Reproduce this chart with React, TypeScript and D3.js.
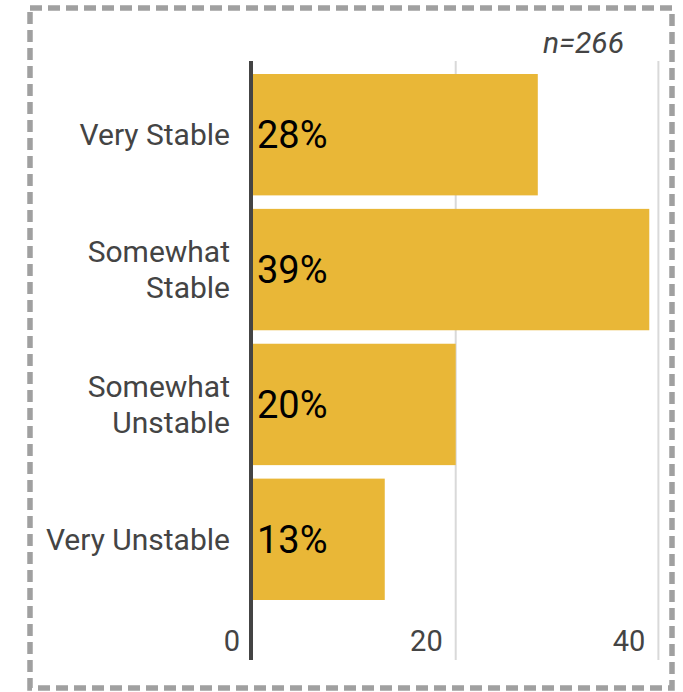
import React from "react";
import * as d3 from "d3";

const categories = ["Very Stable", "Somewhat Stable", "Somewhat Unstable", "Very Unstable"];
const categoryLines = [["Very Stable"], ["Somewhat", "Stable"], ["Somewhat", "Unstable"], ["Very Unstable"]];
const values = [28.1, 39.1, 20.0, 13.0];
const ticks = [0, 20, 40];
const sampleNote = "n=266";

const W = 683;
const H = 692;
const FONT = "Roboto, 'Noto Sans', sans-serif";

export default function App() {
  const x = d3.scaleLinear().domain([0, 40]).range([253, 658.4]);
  const y = d3.scaleBand<string>().domain(categories).range([74, 600]).paddingInner(0.1).paddingOuter(0);
  const plotTop = 61;
  const plotBottom = 660;
  const bw = y.bandwidth();

  return (
    <svg width={W} height={H} style={{ position: "absolute", left: 0, top: 0, background: "#fff" }} fontFamily={FONT}>
      <rect x={30} y={8} width={642} height={680} fill="none" stroke="#a0a0a0" strokeWidth={5.5} strokeDasharray="12 6" />
      {ticks.filter((t) => t !== 0).map((t) => (
        <line key={t} x1={x(t)} x2={x(t)} y1={plotTop} y2={plotBottom} stroke="#d9d9d9" strokeWidth={2} />
      ))}
      {categories.map((c, i) => (
        <rect key={c} x={x(0)} y={y(c)} width={x(values[i]) - x(0)} height={bw} fill="#E9B737" />
      ))}
      <line x1={x(0) - 2} x2={x(0) - 2} y1={plotTop} y2={plotBottom} stroke="#444" strokeWidth={4} />
      {categories.map((c, i) => (
        <text key={c} x={x(0) + 4} y={(y(c) as number) + bw / 2} dy="0.35em" fontSize={38} fill="#000">
          {Math.round(values[i])}%
        </text>
      ))}
      {categories.map((c, i) => {
        const lines = categoryLines[i];
        const cy = (y(c) as number) + bw / 2;
        const lh = 36;
        const first = cy - ((lines.length - 1) * lh) / 2;
        return (
          <text key={c} x={230} textAnchor="end" fontSize={30} fill="#444">
            {lines.map((l, j) => (
              <tspan key={j} x={230} y={first + j * lh} dy="0.34em">
                {l}
              </tspan>
            ))}
          </text>
        );
      })}
      {ticks.map((t) => (
        <text key={t} x={x(t) - 13} y={651} textAnchor="end" fontSize={29} fill="#444">
          {t}
        </text>
      ))}
      <text x={624} y={53} textAnchor="end" fontSize={30} fontStyle="italic" fill="#444">
        {sampleNote}
      </text>
    </svg>
  );
}
